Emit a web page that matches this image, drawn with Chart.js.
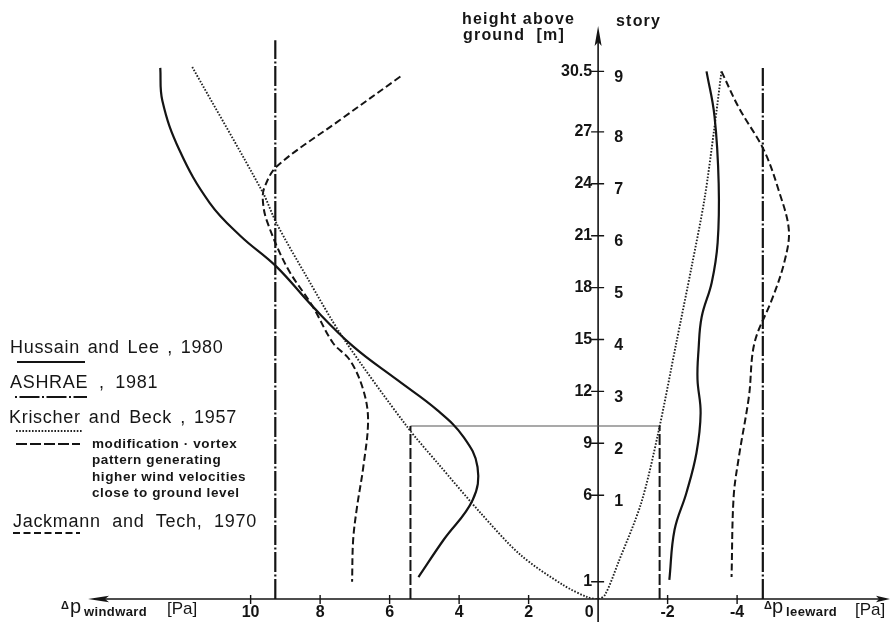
<!DOCTYPE html>
<html lang="en">
<head>
<meta charset="UTF-8">
<title>Wind pressure along building height</title>
<script src="https://cdn.jsdelivr.net/npm/chart.js"></script>
<style>
  body { margin: 0; background: #fff; }
  #wrap {
    position: relative;
    width: 893px;
    height: 624px;
    font-family: "Liberation Sans", Arial, sans-serif;
    color: #161616;
  }
  #chart { position: absolute; left: 0; top: 0; }
  .t { position: absolute; white-space: nowrap; line-height: 1; }
  .big { font-size: 18px; letter-spacing: 0.7px; word-spacing: 2px; }
  .small { font-size: 13.5px; font-weight: bold; letter-spacing: 0.6px; }
  .head { font-size: 16px; font-weight: bold; letter-spacing: 1.2px; }
  .sub { font-size: 13px; font-weight: bold; letter-spacing: 0.4px; }
</style>
</head>
<body>

<div id="wrap">
  <canvas id="chart" width="893" height="624"></canvas>

  <div class="t head" style="left:462px; top:11px;">height above</div>
  <div class="t head" style="left:463px; top:27px;">ground&nbsp; [m]</div>
  <div class="t head" style="left:616px; top:13px;">story</div>

  <div class="t big" style="left:10px; top:338px;">Hussain and Lee , 1980</div>
  <div class="t big" style="left:10px; top:373px; word-spacing:5px;">ASHRAE , 1981</div>
  <div class="t big" style="left:9px; top:408px; word-spacing:2.5px;">Krischer and Beck , 1957</div>
  <div class="t small" style="left:92px; top:437px;">modification · vortex</div>
  <div class="t small" style="left:92px; top:453px;">pattern generating</div>
  <div class="t small" style="left:92px; top:470px;">higher wind velocities</div>
  <div class="t small" style="left:92px; top:486px;">close to ground level</div>
  <div class="t big" style="left:13px; top:512px; word-spacing:6px;">Jackmann and Tech, 1970</div>

  <div class="t" style="left:61px; top:600px; font-size:11px; font-weight:bold;">Δ</div>
  <div class="t" style="left:70px; top:596px; font-size:20px;">p</div>
  <div class="t sub" style="left:84px; top:605px;">windward</div>
  <div class="t" style="left:167px; top:600px; font-size:17px;">[Pa]</div>

  <div class="t" style="left:764px; top:600px; font-size:11px; font-weight:bold;">Δ</div>
  <div class="t" style="left:772px; top:596px; font-size:20px;">p</div>
  <div class="t sub" style="left:786px; top:605px;">leeward</div>
  <div class="t" style="left:855px; top:601px; font-size:17px;">[Pa]</div>
</div>

<script>
// pressure difference [Pa] (windward positive, leeward negative) against height [m]
const hussainWindP = [12.6, 12.54, 12.05, 11.18, 10.3, 9.25, 8.21, 7.05, 5.78, 4.62, 3.87, 3.47, 3.61, 4.45, 5.17];
const hussainWindH = [30.7, 28.8, 25.95, 22.9, 21.0, 19.2, 16.9, 14.6, 12.66, 10.9, 9.36, 7.63, 5.72, 3.41, 1.27];
const hussainLeeP  = [-3.12, -3.35, -3.47, -3.44, -3.27, -2.98, -2.89, -2.86, -2.95, -2.83, -2.54, -2.2, -2.05];
const hussainLeeH  = [30.5, 27.9, 24.0, 20.6, 18.3, 16.3, 14.4, 12.7, 10.75, 8.44, 6.13, 4.0, 1.1];

const ashraeWindP = [9.29, 9.29];
const ashraeWindH = [0, 32.3];
const ashraeLeeP  = [-4.74, -4.74];
const ashraeLeeH  = [0, 30.7];

const krischerP = [11.68, 9.65, 9.25, 8.38, 7.34, 5.49, 4.62, 3.38, 2.23, 1.0, 0.3, 0, -0.2, -0.58, -1.24, -1.73, -2.25, -2.69, -3.06, -3.35, -3.55];
const krischerH = [30.75, 23.5, 21.7, 18.6, 15.1, 9.94, 7.86, 4.97, 2.54, 0.8, 0.1, 0, 0.25, 2.1, 5.55, 9.6, 14.8, 19.2, 23.1, 27.3, 30.5];

// modified profile: constant below 10 m on both faces
const vortexWindP = [5.40, 5.40];
const vortexWindH = [0, 10.0];
const vortexLeeP  = [-1.77, -1.77];
const vortexLeeH  = [0, 10.0];
const vortexLinkP = [5.40, -1.77];
const vortexLinkH = [10.0, 10.0];

const jackmannWindP = [5.69, 7.42, 9.25, 9.6, 9.65, 9.54, 8.96, 8.21, 7.63, 7.14, 6.76, 6.62, 6.76, 6.94, 7.05, 7.08];
const jackmannWindH = [30.2, 27.7, 25.0, 23.8, 23.1, 21.9, 19.2, 16.9, 14.8, 13.8, 12.1, 10.35, 7.6, 5.3, 3.4, 1.0];
const jackmannLeeP  = [-3.55, -4.05, -4.77, -5.2, -5.49, -5.35, -5.0, -4.5, -4.34, -4.05, -3.9, -3.84];
const jackmannLeeH  = [30.5, 28.4, 25.95, 23.6, 21.3, 19.4, 17.3, 14.8, 11.7, 8.2, 5.9, 1.27];

// axis ticks
const pressureTicks = [10, 8, 6, 4, 2, 0, -2, -4];
const heightTicks = [1, 6, 9, 12, 15, 18, 21, 24, 27, 30.5];
const heightLabels = ['1', '6', '9', '12', '15', '18', '21', '24', '27', '30.5'];
const storyHeights = [6, 9, 12, 15, 18, 21, 24, 27, 30.5];
const storyLabels = ['1', '2', '3', '4', '5', '6', '7', '8', '9'];

const INK = '#141414';

const styles = {
  solid:    { borderColor: INK, borderWidth: 2.2, borderDash: [] },
  dashDot:  { borderColor: INK, borderWidth: 2.2, borderDash: [20, 2.5, 2, 2.5] },
  dotted:   { borderColor: '#222', borderWidth: 1.9, borderDash: [1.6, 1.6] },
  longDash: { borderColor: INK, borderWidth: 2, borderDash: [11, 3] },
  dashed:   { borderColor: INK, borderWidth: 2, borderDash: [7, 3.5] },
  thin:     { borderColor: '#555', borderWidth: 1.2, borderDash: [] }
};

function pts(p, h) {
  return p.map((v, i) => ({ x: v, y: h[i] }));
}

function series(label, p, h, style, tension) {
  return Object.assign({
    label: label,
    data: pts(p, h),
    showLine: true,
    pointRadius: 0,
    tension: tension,
    fill: false
  }, style);
}

const datasets = [
  series('Hussain and Lee, 1980', hussainWindP, hussainWindH, styles.solid, 0.4),
  series('Hussain and Lee, 1980 (leeward)', hussainLeeP, hussainLeeH, styles.solid, 0.4),
  series('ASHRAE, 1981', ashraeWindP, ashraeWindH, styles.dashDot, 0),
  series('ASHRAE, 1981 (leeward)', ashraeLeeP, ashraeLeeH, styles.dashDot, 0),
  series('Krischer and Beck, 1957', krischerP, krischerH, styles.dotted, 0.3),
  series('modification', vortexWindP, vortexWindH, styles.longDash, 0),
  series('modification (leeward)', vortexLeeP, vortexLeeH, styles.longDash, 0),
  series('modification link', vortexLinkP, vortexLinkH, styles.thin, 0),
  series('Jackmann and Tech, 1970', jackmannWindP, jackmannWindH, styles.dashed, 0.35),
  series('Jackmann and Tech, 1970 (leeward)', jackmannLeeP, jackmannLeeH, styles.dashed, 0.35)
];

// line samples next to the legend text
const legendSamples = [
  { y: 362, x1: 17, x2: 85, style: styles.solid },
  { y: 397, x1: 15, x2: 87, style: styles.dashDot, dashStart: [2, 2.5, 20, 2.5] },
  { y: 431, x1: 16, x2: 82, style: styles.dotted },
  { y: 444, x1: 16, x2: 80, style: styles.longDash },
  { y: 533, x1: 13, x2: 80, style: styles.dashed }
];

const crossAxes = {
  id: 'crossAxes',
  beforeDatasetsDraw(chart) {
    const { ctx, chartArea, scales } = chart;
    const xs = scales.x, ys = scales.y;
    const x0 = xs.getPixelForValue(0);
    const y0 = ys.getPixelForValue(0);
    ctx.save();
    ctx.strokeStyle = INK;
    ctx.fillStyle = INK;
    ctx.lineWidth = 1.6;

    ctx.beginPath();
    ctx.moveTo(chartArea.left + 6, y0);
    ctx.lineTo(chartArea.right - 6, y0);
    ctx.moveTo(x0, 622);
    ctx.lineTo(x0, chartArea.top + 6);
    ctx.stroke();

    // arrow heads
    ctx.beginPath();
    ctx.moveTo(chartArea.left, y0);
    ctx.lineTo(chartArea.left + 21, y0 - 3.2);
    ctx.lineTo(chartArea.left + 17, y0);
    ctx.lineTo(chartArea.left + 21, y0 + 3.2);
    ctx.closePath();
    ctx.moveTo(chartArea.right, y0);
    ctx.lineTo(chartArea.right - 14, y0 - 3.2);
    ctx.lineTo(chartArea.right - 11, y0);
    ctx.lineTo(chartArea.right - 14, y0 + 3.2);
    ctx.closePath();
    ctx.moveTo(x0, chartArea.top - 4);
    ctx.lineTo(x0 - 3.5, chartArea.top + 16);
    ctx.lineTo(x0, chartArea.top + 12);
    ctx.lineTo(x0 + 3.5, chartArea.top + 16);
    ctx.closePath();
    ctx.fill();

    ctx.lineWidth = 1.4;
    ctx.beginPath();
    xs.ticks.forEach(t => {
      if (t.value === 0) return;
      const px = xs.getPixelForValue(t.value);
      ctx.moveTo(px, y0 - 4);
      ctx.lineTo(px, y0 + 5);
    });
    ys.ticks.forEach(t => {
      const py = ys.getPixelForValue(t.value);
      ctx.moveTo(x0 - 7, py);
      ctx.lineTo(x0 + 6, py);
    });
    ctx.stroke();

    legendSamples.forEach(s => {
      ctx.strokeStyle = s.style.borderColor;
      ctx.lineWidth = s.style.borderWidth;
      ctx.setLineDash(s.dashStart || s.style.borderDash);
      ctx.beginPath();
      ctx.moveTo(s.x1, s.y);
      ctx.lineTo(s.x2, s.y);
      ctx.stroke();
    });
    ctx.restore();
  }
};

const tickFont = { family: '"Liberation Sans", Arial, sans-serif', size: 16, weight: 'bold' };

new Chart(document.getElementById('chart').getContext('2d'), {
  type: 'scatter',
  data: { datasets: datasets },
  options: {
    responsive: false,
    animation: false,
    layout: { padding: { left: 88, right: 3, top: 30, bottom: 25 } },
    plugins: { legend: { display: false }, tooltip: { enabled: false } },
    scales: {
      x: {
        type: 'linear',
        reverse: true,
        min: -8.40,
        max: 14.68,
        position: { y: 0 },
        grid: { display: false, drawTicks: false },
        border: { display: false },
        afterBuildTicks: s => { s.ticks = pressureTicks.map(v => ({ value: v })); },
        ticks: {
          padding: 4,
          color: INK,
          font: tickFont,
          callback: v => (v === 0 ? '0\u2007\u2007' : String(v))
        }
      },
      y: {
        type: 'linear',
        min: 0,
        max: 32.89,
        position: { x: 0.17 },
        grid: { display: false, drawTicks: false },
        border: { display: false },
        afterBuildTicks: s => { s.ticks = heightTicks.map(v => ({ value: v })); },
        ticks: {
          padding: 0,
          color: INK,
          font: tickFont,
          callback: (v, i) => heightLabels[i]
        }
      },
      story: {
        axis: 'y',
        type: 'linear',
        min: 0,
        max: 32.89,
        position: { x: -0.72 },
        grid: { display: false, drawTicks: false },
        border: { display: false },
        afterBuildTicks: s => { s.ticks = storyHeights.map(v => ({ value: v })); },
        ticks: {
          padding: 0,
          labelOffset: 6,
          color: INK,
          font: tickFont,
          callback: (v, i) => storyLabels[i]
        }
      }
    }
  },
  plugins: [crossAxes]
});
</script>

</body>
</html>
